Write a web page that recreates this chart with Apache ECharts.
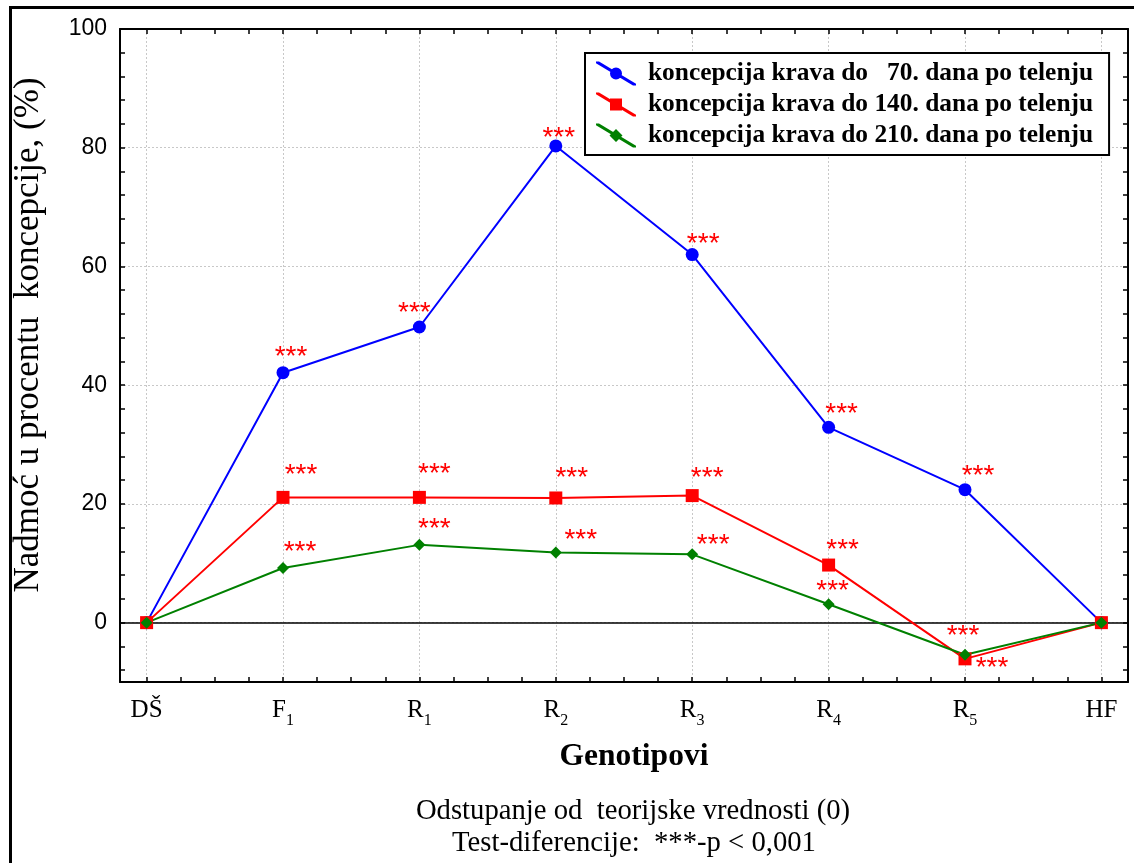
<!DOCTYPE html>
<html><head><meta charset="utf-8">
<script src="https://cdn.jsdelivr.net/npm/echarts@6/dist/echarts.min.js"></script>
<style>html,body{margin:0;padding:0;background:#fff}#c{width:1134px;height:863px}</style>
</head><body><div id="c"></div>
<script>
// ---- data ----
const categories = ['DŠ', 'F1', 'R1', 'R2', 'R3', 'R4', 'R5', 'HF'];
const seriesNames = [
  'koncepcija krava do   70. dana po telenju',
  'koncepcija krava do 140. dana po telenju',
  'koncepcija krava do 210. dana po telenju'
];
const days70  = [0, 42.1, 49.8, 80.3, 62.0, 32.9, 22.4, 0];
const days140 = [0, 21.1, 21.1, 21.0, 21.4, 9.7, -6.1, 0];
const days210 = [0, 9.2, 13.1, 11.8, 11.5, 3.1, -5.4, 0];
const sig70  = ['', '***', '***', '***', '***', '***', '***', ''];
const sig140 = ['', '***', '***', '***', '***', '***', '***', ''];
const sig210 = ['', '***', '***', '***', '***', '***', '***', ''];
const yLabelTicks = [0, 20, 40, 60, 80, 100];
const yMinorTicks = [-8, -4, 0, 4, 8, 12, 16, 20, 24, 28, 32, 36, 40, 44, 48, 52, 56, 60, 64, 68, 72, 76, 80, 84, 88, 92, 96, 100];
const xMajorTicks = [0, 1, 2, 3, 4, 5, 6, 7];
const xMinorTicks = [0, 0.25, 0.5, 0.75, 1, 1.25, 1.5, 1.75, 2, 2.25, 2.5, 2.75, 3, 3.25, 3.5, 3.75, 4, 4.25, 4.5, 4.75, 5, 5.25, 5.5, 5.75, 6, 6.25, 6.5, 6.75, 7];

// ---- styling (label placement of significance stars, in px) ----
const starOffsets = [
  [null, [8, -21], [-5, -20], [3, -14], [11, -16], [13, -19], [13, -19], null],
  [null, [18, -28], [15, -29], [16, -26], [15, -23], [14, -21], [27, 3], null],
  [null, [17, -22], [15, -22], [25, -18], [21, -15], [4, -19], [-2, -24], null]
];
const starShift = 6;
const colors = ['#0000ff', '#ff0000', '#008000'];
const symbols = ['circle', 'rect', 'diamond'];
const symbolSizes = [13, 13, 12];
const serif = 'Liberation Serif';
const sans = 'Liberation Sans';

const values = [days70, days140, days210];
const sigs = [sig70, sig140, sig210];

function buildData(si) {
  return values[si].map((v, i) => {
    const off = starOffsets[si][i];
    return {
      value: [i, v],
      label: {
        show: !!sigs[si][i],
        formatter: sigs[si][i] || '',
        offset: off ? [off[0], off[1] + starShift] : [0, 0]
      }
    };
  });
}

const band = 'M0,0 L3,0 L40,22.2 L40,24 L37,24 L0,1.8 Z ';
const icons = [
  'path://' + band + 'M26,12 A6,6 0 1,1 14,12 A6,6 0 1,1 26,12 Z',
  'path://' + band + 'M14,6 L26,6 L26,18 L14,18 Z',
  'path://' + band + 'M20,5.5 L26.5,12 L20,18.5 L13.5,12 Z'
];

const series = seriesNames.map((name, si) => ({
  name,
  type: 'line',
  xAxisIndex: 0,
  yAxisIndex: 0,
  data: buildData(si),
  symbol: symbols[si],
  symbolSize: symbolSizes[si],
  showAllSymbol: true,
  color: colors[si],
  lineStyle: { color: colors[si], width: 2 },
  itemStyle: { color: colors[si] },
  label: {
    position: 'inside',
    color: '#ff0000',
    fontFamily: sans,
    fontSize: 28
  },
  emphasis: { disabled: true },
  animation: false
}));

const xBase = { type: 'value', gridIndex: 0, min: -0.195, max: 7.195 };
const yBase = { type: 'value', gridIndex: 0, min: -10, max: 100 };
const frameLine = { show: true, onZero: false, lineStyle: { color: '#000', width: 2 } };

const option = {
  animation: false,
  backgroundColor: '#fff',
  grid: { left: 120, right: 6, top: 29, bottom: 181 },
  xAxis: [
    Object.assign({}, xBase, {
      position: 'bottom',
      axisLine: frameLine,
      axisTick: { show: false, customValues: xMajorTicks },
      axisLabel: {
        customValues: xMajorTicks,
        margin: 15,
        formatter: v => {
          const name = categories[Math.round(v)];
          const m = name.match(/^([A-Z]+)(\d)$/);
          return m ? '{n|' + m[1] + '}{s|' + m[2] + '}' : '{n|' + name + '}';
        },
        rich: {
          n: { fontFamily: serif, fontSize: 25, color: '#000', lineHeight: 26, verticalAlign: 'bottom' },
          s: { fontFamily: serif, fontSize: 16, color: '#000', lineHeight: 26, verticalAlign: 'bottom', padding: [0, 0, -6, 0] }
        }
      },
      splitLine: { show: true, lineStyle: { color: '#c8c8c8', type: [2, 2], width: 1 } }
    }),
    Object.assign({}, xBase, {
      position: 'top',
      axisLine: frameLine,
      axisTick: { show: true, inside: true, length: 5, customValues: xMinorTicks, lineStyle: { color: '#000', width: 1.5 } },
      axisLabel: { show: false },
      splitLine: { show: false }
    }),
    Object.assign({}, xBase, {
      position: 'bottom',
      axisLine: { show: false, onZero: false },
      axisTick: { show: true, inside: true, length: 5, customValues: xMinorTicks, lineStyle: { color: '#000', width: 1.5 } },
      axisLabel: { show: false },
      splitLine: { show: false }
    }),
    Object.assign({}, xBase, {
      position: 'bottom',
      axisLine: { show: true, onZero: true, onZeroAxisIndex: 0, lineStyle: { color: '#000', width: 1.5 } },
      axisTick: { show: false },
      axisLabel: { show: false },
      splitLine: { show: false }
    })
  ],
  yAxis: [
    Object.assign({}, yBase, {
      position: 'left',
      axisLine: frameLine,
      axisTick: { show: false, customValues: yLabelTicks },
      axisLabel: { customValues: yLabelTicks, margin: 13, fontFamily: sans, fontSize: 23, color: '#000' },
      splitLine: { show: true, lineStyle: { color: '#c8c8c8', type: [2, 2], width: 1 } }
    }),
    Object.assign({}, yBase, {
      position: 'right',
      axisLine: frameLine,
      axisTick: { show: true, inside: true, length: 5, customValues: yMinorTicks, lineStyle: { color: '#000', width: 1.5 } },
      axisLabel: { show: false },
      splitLine: { show: false }
    }),
    Object.assign({}, yBase, {
      position: 'left',
      axisLine: { show: false, onZero: false },
      axisTick: { show: true, inside: true, length: 5, customValues: yMinorTicks, lineStyle: { color: '#000', width: 1.5 } },
      axisLabel: { show: false },
      splitLine: { show: false }
    })
  ],
  legend: {
    orient: 'vertical',
    left: 585,
    top: 53,
    padding: [8, 16, 7, 11],
    itemWidth: 40,
    itemHeight: 24,
    itemGap: 6,
    borderColor: '#000',
    borderWidth: 2,
    backgroundColor: '#fff',
    selectedMode: false,
    data: seriesNames.map((n, i) => ({ name: n, icon: icons[i] })),
    textStyle: { fontFamily: serif, fontWeight: 'bold', fontSize: 25.4, color: '#000', padding: [0, 0, 0, 7] }
  },
  graphic: [
    { type: 'rect', left: 8, top: 5, shape: { width: 1200, height: 900 }, style: { fill: 'none', stroke: '#000', lineWidth: 3 }, silent: true },
    { type: 'text', x: 29, y: 335, rotation: Math.PI / 2,
      style: { text: 'Nadmoć u procentu  koncepcije, (%)', fontFamily: serif, fontSize: 35, fill: '#000', textAlign: 'center', textVerticalAlign: 'middle' } },
    { type: 'text', x: 634, y: 757,
      style: { text: 'Genotipovi', fontFamily: serif, fontWeight: 'bold', fontSize: 31.5, fill: '#000', textAlign: 'center', textVerticalAlign: 'middle' } },
    { type: 'text', x: 633, y: 811,
      style: { text: 'Odstupanje od  teorijske vrednosti (0)', fontFamily: serif, fontSize: 28.7, fill: '#000', textAlign: 'center', textVerticalAlign: 'middle' } },
    { type: 'text', x: 634, y: 843,
      style: { text: 'Test-diferencije:  ***-p < 0,001', fontFamily: serif, fontSize: 28.7, fill: '#000', textAlign: 'center', textVerticalAlign: 'middle' } }
  ],
  series
};

const chart = echarts.init(document.getElementById('c'), null, { renderer: 'canvas' });
chart.setOption(option);
</script>
</body></html>
